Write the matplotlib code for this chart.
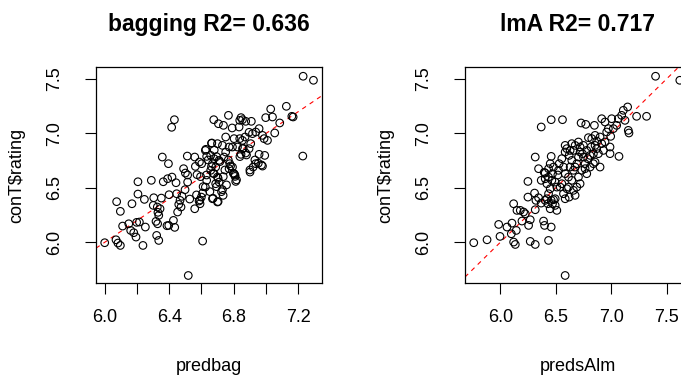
import numpy as np
import matplotlib

matplotlib.use('Agg')
import matplotlib.pyplot as plt

plt.rcParams['font.family'] = ['Liberation Sans', 'DejaVu Sans']

# bagging panel: predicted (predbag) vs actual (conT$rating)
predbag = [
    6.432, 6.415, 6.357, 6.395, 6.000, 6.070, 6.082, 6.097, 6.074, 6.097,
    6.111, 6.149, 6.161, 6.180, 6.194, 6.198, 6.215, 6.252, 6.237, 6.169,
    6.206, 6.246, 6.206, 6.289, 6.304, 6.301, 6.326, 6.330, 6.335, 6.343,
    6.351, 6.318, 6.328, 6.322, 6.335, 6.386, 6.397, 6.426, 6.434, 6.363,
    6.390, 6.417, 6.442, 6.399, 6.446, 6.467, 6.459, 6.473, 6.452, 6.479,
    6.498, 6.514, 6.489, 6.500, 6.514, 6.527, 6.558, 6.572, 6.585, 6.591,
    6.599, 6.607, 6.624, 6.632, 6.512, 6.558, 6.587, 6.601, 6.562, 6.624,
    6.632, 6.607, 6.518,
    7.230, 7.294, 7.228, 7.126, 7.160, 7.168, 7.085, 7.054, 7.029, 6.998,
    7.040, 6.845, 6.854, 6.837, 6.874, 6.909, 6.767, 6.676, 6.705, 6.736,
    6.790, 6.833, 6.957, 6.936, 6.916, 6.895, 6.870, 6.854, 6.750, 6.802,
    6.837, 6.978, 7.009, 6.988, 6.905, 6.895, 6.854, 6.874, 6.845, 6.823,
    6.792, 6.771, 6.730, 6.699, 6.664, 6.957, 6.992, 6.936, 6.978, 6.920,
    6.901, 6.775, 6.792, 6.771, 6.802, 6.808, 6.812, 6.657, 6.678, 6.668,
    6.688, 6.657, 6.678, 6.699, 6.709, 6.688, 6.730, 6.734, 6.668, 6.699,
    6.750, 6.740, 6.709,
    6.662, 6.679, 6.627, 6.693, 6.641, 6.662, 6.714, 6.745, 6.766, 6.780,
    6.797, 6.735, 6.703, 6.672, 6.631, 6.594, 6.610, 6.652, 6.693, 6.569,
    6.590, 6.672, 6.703, 6.724, 6.755, 6.807, 6.817, 6.838, 6.859, 6.879,
    6.900, 6.931, 6.952, 6.972,
]
rating_bag = [
    7.126, 7.056, 6.783, 6.722, 5.996, 6.023, 5.993, 5.971, 6.373, 6.284,
    6.149, 6.170, 6.109, 6.088, 6.048, 6.183, 6.186, 6.140, 5.971, 6.354,
    6.443, 6.394, 6.556, 6.569, 6.409, 6.339, 6.324, 6.275, 6.247, 6.308,
    6.406, 6.192, 6.170, 6.063, 6.017, 6.152, 6.155, 6.201, 6.137, 6.556,
    6.584, 6.599, 6.547, 6.437, 6.446, 6.385, 6.348, 6.324, 6.278, 6.422,
    6.483, 6.553, 6.676, 6.636, 6.618, 6.397, 6.308, 6.621, 6.379, 6.354,
    6.415, 6.452, 6.507, 6.569, 6.792, 6.783, 6.737, 6.722, 6.697, 6.844,
    6.789, 6.011, 5.695,
    7.525, 7.488, 6.792, 7.249, 7.157, 7.151, 7.096, 7.004, 7.224, 7.145,
    7.151, 7.145, 7.126, 7.120, 7.111, 7.111, 7.166, 7.126, 7.089, 7.074,
    7.050, 7.059, 7.044, 7.013, 6.998, 7.010, 6.967, 6.936, 6.967, 6.952,
    6.952, 6.982, 6.936, 6.952, 6.906, 6.860, 6.860, 6.820, 6.808, 6.875,
    6.875, 6.875, 6.890, 6.906, 6.912, 6.808, 6.798, 6.722, 6.700, 6.691,
    6.645, 6.722, 6.691, 6.676, 6.630, 6.605, 6.559, 6.798, 6.768, 6.722,
    6.691, 6.661, 6.630, 6.599, 6.553, 6.538, 6.483, 6.431, 6.400, 6.370,
    6.829, 6.783, 6.752,
    6.909, 6.848, 6.854, 6.787, 6.756, 6.695, 6.741, 6.664, 6.756, 6.701,
    6.634, 6.603, 6.588, 6.634, 6.618, 6.603, 6.511, 6.465, 6.511, 6.435,
    6.389, 6.404, 6.374, 6.465, 6.527, 6.618, 6.573, 6.787, 6.863, 6.802,
    6.664, 6.756, 6.726, 6.710,
]

# lmA panel: predicted (predsAlm) vs actual (conT$rating)
predsAlm = [
    7.401, 7.620, 6.585, 5.760, 5.880, 5.985, 5.997, 6.060, 6.105, 6.120,
    6.135, 6.099, 6.144, 6.120, 6.180, 6.210, 6.195, 6.255, 6.270, 6.270,
    6.315, 6.390, 6.399, 6.459, 6.435, 6.315, 6.249, 6.249, 6.309, 6.321,
    6.345, 6.369, 6.405, 6.429, 6.459, 6.480, 6.450, 6.495, 6.510, 6.585,
    6.621, 6.675, 6.600, 6.345, 6.369, 6.405, 6.435, 6.450, 6.471, 6.495,
    6.519, 6.540, 6.450, 6.315, 6.459, 6.531, 6.555, 6.570, 6.585, 6.600,
    6.621, 6.645, 6.660, 6.675, 6.705, 6.720, 6.741, 6.765, 6.789, 6.819,
    6.840, 6.735, 6.705, 6.780, 6.810, 6.855, 6.885, 6.900, 6.870, 6.720,
    6.645, 6.690, 6.795, 6.825, 6.870, 6.900, 6.945, 6.990, 6.990, 7.071,
    6.996, 6.975, 7.020, 7.005, 7.065, 7.095, 7.110, 7.149, 7.125, 7.155,
    7.161, 7.230, 7.320, 6.915, 6.945, 6.849, 6.771, 6.729, 6.369, 6.459,
    6.561, 6.150, 6.225, 6.396, 6.420, 6.555, 6.615, 6.660, 6.645, 6.705,
    6.750, 6.855,
    6.585, 6.630, 6.675, 6.720, 6.750, 6.780, 6.810, 6.840, 6.765, 6.690,
    6.630, 6.585, 6.525, 6.480, 6.435, 6.405, 6.465, 6.510, 6.570, 6.615,
    6.660, 6.435, 6.471, 6.420, 6.495, 6.915, 6.930, 6.855, 6.960, 7.050,
]
rating_lm = [
    7.525, 7.488, 5.695, 5.996, 6.023, 6.164, 6.054, 6.140, 6.176, 6.002,
    5.980, 6.078, 6.109, 6.354, 6.293, 6.278, 6.195, 6.155, 6.207, 6.008,
    5.980, 6.195, 6.155, 6.140, 6.017, 6.299, 6.559, 6.415, 6.452, 6.385,
    6.409, 6.360, 6.385, 6.354, 6.385, 6.391, 6.308, 6.339, 6.293, 6.400,
    6.415, 6.431, 6.492, 6.676, 6.569, 6.636, 6.599, 6.722, 6.630, 6.553,
    6.618, 6.507, 6.492, 6.783, 6.789, 6.722, 6.768, 6.691, 6.829, 6.860,
    6.798, 6.752, 6.844, 6.691, 6.783, 6.875, 6.814, 6.722, 6.768, 6.875,
    6.814, 6.661, 6.599, 6.630, 6.691, 6.737, 6.814, 6.691, 6.860, 6.538,
    6.569, 6.507, 6.961, 6.952, 6.930, 6.967, 6.921, 6.875, 6.814, 6.789,
    6.973, 7.044, 7.044, 7.135, 7.135, 7.166, 7.212, 7.243, 7.120, 7.028,
    7.004, 7.157, 7.157, 7.135, 7.105, 7.074, 7.083, 7.096, 7.059, 7.126,
    7.126, 6.293, 6.262, 6.642, 6.538, 6.538, 6.599, 6.661, 6.906, 6.921,
    6.890, 6.982,
    6.890, 6.844, 6.890, 6.829, 6.783, 6.844, 6.798, 6.722, 6.676, 6.722,
    6.691, 6.630, 6.661, 6.691, 6.676, 6.584, 6.569, 6.507, 6.446, 6.507,
    6.477, 6.446, 6.354, 6.400, 6.400, 6.906, 6.844, 6.890, 7.013, 7.074,
]

panels = [
    (predbag, rating_bag, 'bagging R2= 0.636', 'predbag',
     [6.0, 6.2, 6.4, 6.6, 6.8, 7.0, 7.2], ['6.0', '', '6.4', '', '6.8', '', '7.2'],
     (5.946, 7.347), 96),
    (predsAlm, rating_lm, 'lmA R2= 0.717', 'predsAlm',
     [6.0, 6.5, 7.0, 7.5], ['6.0', '6.5', '7.0', '7.5'],
     (5.681, 7.721), 465),
]
yticks = [6.0, 6.5, 7.0, 7.5]
yticklabels = ['6.0', '6.5', '7.0', '7.5']

W, H = 681, 376
fig = plt.figure(figsize=(W / 100, H / 100), dpi=100)

for x, y, title, xlabel, xt, xtl, xlim, left_px in panels:
    ax = fig.add_axes([left_px / W, (H - 283) / H, 226 / W, 216 / H])
    ax.scatter(x, y, s=30, facecolors='none', edgecolors='black', linewidths=0.8, zorder=3)
    ax.axline((0, 0), slope=1, color='red', linestyle=(0, (4, 4)), linewidth=0.8, zorder=2)
    ax.set_xlim(*xlim)
    ax.set_ylim(5.626, 7.61)
    ax.set_xticks(xt)
    ax.set_xticklabels(xtl)
    ax.set_yticks(yticks)
    ax.set_yticklabels(yticklabels, rotation=90, va='center')
    ax.tick_params(axis='both', length=8, width=0.8, labelsize=13)
    ax.tick_params(axis='x', pad=11)
    ax.tick_params(axis='y', pad=16)
    ax.set_title(title, fontsize=16.5, fontweight='bold', pad=26)
    ax.set_xlabel(xlabel, fontsize=13, labelpad=23)
    ax.set_ylabel('conT$rating', fontsize=13, labelpad=15)
    for sp in ax.spines.values():
        sp.set_linewidth(0.9)

fig.savefig('out.png', dpi=100)
